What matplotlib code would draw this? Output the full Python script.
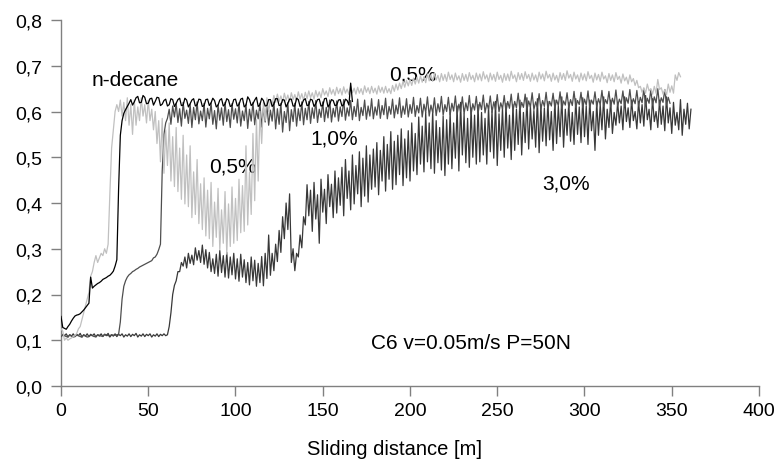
import numpy as np
import matplotlib
matplotlib.use("Agg")
import matplotlib.pyplot as plt

plt.rcParams['font.family'] = ['Liberation Sans', 'DejaVu Sans']

# ---- data: friction coefficient read every metre (even / odd metre readings) ----
decane_even = [
    0.152, 0.126, 0.130, 0.142, 0.153, 0.156, 0.162, 0.171, 0.181, 0.214,
    0.221, 0.226, 0.233, 0.237, 0.242, 0.251, 0.276, 0.548, 0.596, 0.611,
    0.626, 0.621, 0.633, 0.620, 0.631, 0.618, 0.629, 0.622, 0.630, 0.616,
    0.627, 0.615, 0.626, 0.618, 0.629, 0.614, 0.625, 0.617, 0.628, 0.615,
    0.626, 0.613, 0.627, 0.619, 0.624, 0.614, 0.628, 0.616, 0.625, 0.613,
    0.627, 0.615, 0.629, 0.614, 0.626, 0.617, 0.631, 0.615, 0.624, 0.613,
    0.626, 0.616, 0.628, 0.614, 0.625, 0.618, 0.627, 0.612, 0.626, 0.615,
    0.628, 0.614, 0.625, 0.617, 0.627, 0.613, 0.629, 0.616, 0.624, 0.614,
    0.626, 0.615, 0.624, 0.662]
decane_odd = [
    0.128, 0.124, 0.135, 0.148, 0.155, 0.158, 0.166, 0.176, 0.238, 0.218,
    0.224, 0.229, 0.235, 0.240, 0.246, 0.262, 0.430, 0.580, 0.604, 0.618,
    0.614, 0.630, 0.619, 0.635, 0.617, 0.628, 0.614, 0.631, 0.613, 0.624,
    0.612, 0.628, 0.611, 0.626, 0.613, 0.629, 0.610, 0.625, 0.612, 0.627,
    0.611, 0.626, 0.613, 0.629, 0.610, 0.625, 0.612, 0.628, 0.611, 0.626,
    0.612, 0.627, 0.610, 0.632, 0.613, 0.625, 0.611, 0.629, 0.612, 0.626,
    0.611, 0.628, 0.613, 0.626, 0.610, 0.627, 0.612, 0.629, 0.611, 0.625,
    0.613, 0.627, 0.611, 0.626, 0.612, 0.628, 0.610, 0.626, 0.613, 0.625,
    0.612, 0.627, 0.614, 0.622]

c05_even = [
    0.125, 0.100, 0.100, 0.105, 0.110, 0.125, 0.145, 0.175, 0.205, 0.250,
    0.285, 0.280, 0.285, 0.290, 0.420, 0.560, 0.615, 0.625, 0.620, 0.630,
    0.615, 0.625, 0.610, 0.630, 0.615, 0.625, 0.605, 0.600, 0.580, 0.585,
    0.560, 0.575, 0.545, 0.565, 0.520, 0.548, 0.505, 0.525, 0.468, 0.495,
    0.442, 0.455, 0.428, 0.445, 0.402, 0.432, 0.385, 0.425, 0.398, 0.435,
    0.410, 0.452, 0.438, 0.525, 0.468, 0.552, 0.582, 0.600, 0.620, 0.630,
    0.625, 0.635, 0.638, 0.634, 0.640, 0.636, 0.641, 0.637, 0.643, 0.639,
    0.642, 0.645, 0.641, 0.646, 0.643, 0.650, 0.645, 0.652, 0.648, 0.653,
    0.650, 0.654, 0.649, 0.655, 0.651, 0.653, 0.650, 0.656, 0.652, 0.655,
    0.651, 0.656, 0.653, 0.655, 0.650, 0.657, 0.660, 0.662, 0.666, 0.668,
    0.670, 0.673, 0.675, 0.678, 0.676, 0.682, 0.680, 0.684, 0.679, 0.683,
    0.681, 0.686, 0.680, 0.684, 0.678, 0.683, 0.681, 0.685, 0.679, 0.684,
    0.682, 0.687, 0.680, 0.684, 0.681, 0.686, 0.679, 0.683, 0.682, 0.688,
    0.680, 0.685, 0.683, 0.687, 0.681, 0.684, 0.680, 0.686, 0.682, 0.688,
    0.681, 0.684, 0.679, 0.685, 0.683, 0.689, 0.681, 0.686, 0.680, 0.684,
    0.682, 0.687, 0.679, 0.684, 0.681, 0.686, 0.678, 0.683, 0.680, 0.685,
    0.677, 0.682, 0.675, 0.680, 0.672, 0.668, 0.655, 0.652, 0.660, 0.650,
    0.655, 0.670, 0.652, 0.648, 0.660, 0.656, 0.680, 0.685]
c05_odd = [
    0.120, 0.105, 0.103, 0.108, 0.115, 0.130, 0.160, 0.190, 0.240, 0.270,
    0.270, 0.290, 0.300, 0.310, 0.520, 0.600, 0.600, 0.590, 0.580, 0.570,
    0.550, 0.570, 0.580, 0.590, 0.575, 0.580, 0.560, 0.530, 0.490, 0.465,
    0.482, 0.448, 0.436, 0.425, 0.408, 0.398, 0.392, 0.368, 0.375, 0.355,
    0.342, 0.328, 0.322, 0.305, 0.325, 0.298, 0.312, 0.288, 0.305, 0.312,
    0.318, 0.335, 0.338, 0.352, 0.375, 0.405, 0.448, 0.530, 0.580, 0.600,
    0.615, 0.620, 0.622, 0.620, 0.624, 0.621, 0.626, 0.623, 0.627, 0.624,
    0.628, 0.630, 0.627, 0.632, 0.630, 0.636, 0.633, 0.638, 0.635, 0.639,
    0.636, 0.640, 0.637, 0.641, 0.638, 0.640, 0.637, 0.642, 0.639, 0.641,
    0.638, 0.642, 0.640, 0.641, 0.639, 0.644, 0.647, 0.650, 0.653, 0.656,
    0.657, 0.660, 0.662, 0.664, 0.663, 0.667, 0.666, 0.669, 0.665, 0.668,
    0.666, 0.670, 0.665, 0.669, 0.664, 0.668, 0.666, 0.670, 0.665, 0.669,
    0.667, 0.671, 0.665, 0.669, 0.666, 0.670, 0.664, 0.668, 0.667, 0.672,
    0.665, 0.670, 0.668, 0.672, 0.666, 0.669, 0.665, 0.671, 0.667, 0.673,
    0.666, 0.669, 0.664, 0.670, 0.668, 0.673, 0.666, 0.671, 0.665, 0.669,
    0.667, 0.672, 0.664, 0.669, 0.666, 0.671, 0.663, 0.668, 0.665, 0.670,
    0.662, 0.667, 0.660, 0.665, 0.657, 0.652, 0.642, 0.640, 0.645, 0.638,
    0.640, 0.648, 0.638, 0.636, 0.642, 0.640, 0.668, 0.676]

c10_even = [
    0.108, 0.110, 0.107, 0.109, 0.108, 0.110, 0.107, 0.109, 0.108, 0.110,
    0.108, 0.111, 0.109, 0.112, 0.110, 0.111, 0.112, 0.140, 0.218, 0.238,
    0.246, 0.252, 0.257, 0.262, 0.266, 0.270, 0.274, 0.282, 0.298, 0.470,
    0.575, 0.605, 0.612, 0.618, 0.606, 0.620, 0.603, 0.616, 0.609, 0.621,
    0.601, 0.618, 0.607, 0.619, 0.602, 0.615, 0.608, 0.620, 0.604, 0.617,
    0.606, 0.619, 0.601, 0.616, 0.605, 0.620, 0.603, 0.618, 0.607, 0.615,
    0.603, 0.621, 0.606, 0.618, 0.600, 0.619, 0.604, 0.618, 0.606, 0.621,
    0.607, 0.622, 0.608, 0.624, 0.605, 0.621, 0.609, 0.625, 0.607, 0.623,
    0.610, 0.626, 0.608, 0.624, 0.611, 0.627, 0.609, 0.625, 0.612, 0.628,
    0.610, 0.626, 0.613, 0.629, 0.611, 0.627, 0.614, 0.630, 0.612, 0.628,
    0.615, 0.631, 0.613, 0.629, 0.616, 0.632, 0.614, 0.630, 0.617, 0.633,
    0.615, 0.631, 0.618, 0.634, 0.616, 0.632, 0.619, 0.635, 0.617, 0.633,
    0.620, 0.636, 0.618, 0.634, 0.621, 0.637, 0.619, 0.635, 0.622, 0.638,
    0.622, 0.640, 0.620, 0.638, 0.623, 0.641, 0.621, 0.639, 0.624, 0.642,
    0.622, 0.640, 0.625, 0.643, 0.623, 0.641, 0.626, 0.644, 0.624, 0.642,
    0.627, 0.645, 0.625, 0.643, 0.628, 0.646, 0.626, 0.644, 0.629, 0.647,
    0.627, 0.645, 0.630, 0.648, 0.628, 0.646, 0.631, 0.649, 0.629, 0.647,
    0.632, 0.650, 0.630, 0.648, 0.631]
c10_odd = [
    0.111, 0.108, 0.112, 0.107, 0.111, 0.108, 0.112, 0.107, 0.111, 0.108,
    0.112, 0.109, 0.113, 0.110, 0.112, 0.111, 0.113, 0.190, 0.230, 0.243,
    0.250, 0.255, 0.260, 0.264, 0.268, 0.272, 0.280, 0.288, 0.310, 0.550,
    0.585, 0.572, 0.588, 0.576, 0.568, 0.585, 0.574, 0.565, 0.582, 0.573,
    0.580, 0.566, 0.584, 0.572, 0.562, 0.581, 0.570, 0.578, 0.565, 0.583,
    0.575, 0.568, 0.580, 0.563, 0.579, 0.571, 0.584, 0.566, 0.577, 0.570,
    0.579, 0.562, 0.572, 0.555, 0.576, 0.558, 0.578, 0.568, 0.580, 0.571,
    0.582, 0.574, 0.585, 0.576, 0.587, 0.578, 0.586, 0.577, 0.588, 0.579,
    0.589, 0.581, 0.590, 0.582, 0.589, 0.580, 0.591, 0.583, 0.590, 0.584,
    0.592, 0.585, 0.593, 0.584, 0.594, 0.586, 0.595, 0.587, 0.594, 0.588,
    0.596, 0.589, 0.597, 0.588, 0.598, 0.590, 0.597, 0.591, 0.599, 0.592,
    0.600, 0.593, 0.601, 0.594, 0.600, 0.595, 0.602, 0.594, 0.603, 0.596,
    0.604, 0.597, 0.605, 0.598, 0.604, 0.599, 0.606, 0.600, 0.607, 0.601,
    0.608, 0.602, 0.609, 0.603, 0.610, 0.604, 0.609, 0.605, 0.611, 0.606,
    0.612, 0.607, 0.613, 0.606, 0.614, 0.608, 0.613, 0.609, 0.615, 0.608,
    0.614, 0.609, 0.616, 0.610, 0.615, 0.611, 0.617, 0.610, 0.616, 0.612,
    0.617, 0.611, 0.618, 0.613, 0.617, 0.612, 0.619, 0.613, 0.618, 0.614,
    0.619, 0.613, 0.620, 0.614, 0.618]

c30_even = [
    0.108, 0.110, 0.107, 0.109, 0.108, 0.110, 0.107, 0.109, 0.108, 0.110,
    0.107, 0.109, 0.108, 0.110, 0.107, 0.109, 0.108, 0.110, 0.107, 0.109,
    0.108, 0.110, 0.107, 0.109, 0.108, 0.110, 0.107, 0.109, 0.108, 0.110,
    0.110, 0.130, 0.200, 0.230, 0.250, 0.262, 0.258, 0.268, 0.265, 0.275,
    0.270, 0.266, 0.258, 0.250, 0.246, 0.240, 0.248, 0.238, 0.236, 0.243,
    0.234, 0.229, 0.238, 0.226, 0.221, 0.230, 0.218, 0.226, 0.219, 0.235,
    0.242, 0.252, 0.272, 0.292, 0.322, 0.342, 0.270, 0.252, 0.282, 0.302,
    0.352, 0.372, 0.338, 0.365, 0.312, 0.380, 0.355, 0.392, 0.368, 0.378,
    0.395, 0.372, 0.410, 0.385, 0.398, 0.420, 0.392, 0.415, 0.402, 0.430,
    0.435, 0.418, 0.448, 0.426, 0.452, 0.430, 0.440, 0.462, 0.438, 0.455,
    0.448, 0.470, 0.462, 0.485, 0.468, 0.490, 0.475, 0.465, 0.488, 0.472,
    0.460, 0.485, 0.475, 0.498, 0.470, 0.505, 0.488, 0.478, 0.500, 0.485,
    0.490, 0.505, 0.485, 0.512, 0.498, 0.482, 0.515, 0.500, 0.520, 0.495,
    0.515, 0.528, 0.505, 0.532, 0.518, 0.540, 0.522, 0.510, 0.535, 0.525,
    0.538, 0.515, 0.530, 0.545, 0.522, 0.548, 0.535, 0.528, 0.550, 0.532,
    0.545, 0.528, 0.558, 0.515, 0.548, 0.560, 0.540, 0.565, 0.552, 0.570,
    0.575, 0.560, 0.578, 0.565, 0.580, 0.562, 0.575, 0.568, 0.582, 0.560,
    0.578, 0.565, 0.572, 0.558, 0.575, 0.552, 0.570, 0.560, 0.548, 0.572,
    0.562]
c30_odd = [
    0.113, 0.114, 0.112, 0.114, 0.113, 0.115, 0.112, 0.114, 0.113, 0.114,
    0.112, 0.114, 0.113, 0.115, 0.112, 0.114, 0.113, 0.114, 0.112, 0.114,
    0.113, 0.115, 0.112, 0.114, 0.113, 0.114, 0.112, 0.114, 0.113, 0.114,
    0.112, 0.160, 0.220, 0.250, 0.270, 0.282, 0.290, 0.286, 0.302, 0.296,
    0.308, 0.298, 0.292, 0.278, 0.288, 0.296, 0.285, 0.292, 0.282, 0.290,
    0.278, 0.288, 0.276, 0.270, 0.282, 0.275, 0.268, 0.283, 0.290, 0.330,
    0.290, 0.310, 0.340, 0.370, 0.400, 0.420, 0.300, 0.290, 0.330, 0.370,
    0.440, 0.428, 0.445, 0.418, 0.452, 0.430, 0.462, 0.441, 0.470, 0.455,
    0.478, 0.495, 0.470, 0.505, 0.482, 0.512, 0.498, 0.525, 0.505, 0.518,
    0.532, 0.515, 0.545, 0.528, 0.556, 0.535, 0.548, 0.562, 0.540, 0.558,
    0.575, 0.552, 0.588, 0.568, 0.598, 0.575, 0.602, 0.580, 0.565, 0.590,
    0.582, 0.598, 0.575, 0.612, 0.620, 0.595, 0.585, 0.608, 0.592, 0.615,
    0.598, 0.585, 0.612, 0.600, 0.622, 0.595, 0.608, 0.618, 0.592, 0.615,
    0.605, 0.625, 0.598, 0.630, 0.612, 0.602, 0.628, 0.615, 0.608, 0.622,
    0.600, 0.625, 0.612, 0.632, 0.605, 0.620, 0.598, 0.628, 0.610, 0.630,
    0.612, 0.625, 0.600, 0.622, 0.615, 0.632, 0.605, 0.625, 0.598, 0.620,
    0.612, 0.632, 0.608, 0.625, 0.600, 0.622, 0.615, 0.635, 0.605, 0.628,
    0.600, 0.625, 0.612, 0.632, 0.608, 0.620, 0.598, 0.626, 0.605, 0.618,
    0.605]

x_ticks = [0, 50, 100, 150, 200, 250, 300, 350, 400]
y_ticks = [0.0, 0.1, 0.2, 0.3, 0.4, 0.5, 0.6, 0.7, 0.8]
y_ticklabels = ["0,0", "0,1", "0,2", "0,3", "0,4", "0,5", "0,6", "0,7", "0,8"]


def series(even, odd):
    y = np.empty(len(even) + len(odd))
    y[0::2] = even
    y[1::2] = odd
    x = np.arange(len(y))  # one reading per metre
    return x, y


fig = plt.figure(figsize=(7.81, 4.6), dpi=100)
ax = fig.add_axes([61 / 781, 73 / 460, 698 / 781, 366 / 460])

ax.plot(*series(c30_even, c30_odd), color="#383838", lw=0.9, zorder=2)
ax.plot(*series(c10_even, c10_odd), color="#4e4e4e", lw=0.9, zorder=3)
ax.plot(*series(c05_even, c05_odd), color="#c0c0c0", lw=0.9, zorder=4)
ax.plot(*series(decane_even, decane_odd), color="#000000", lw=0.9, zorder=5)

ax.set_xlim(0, 400)
ax.set_ylim(0, 0.8)
ax.set_xticks(x_ticks)
ax.set_xticklabels([str(v) for v in x_ticks])
ax.set_yticks(y_ticks)
ax.set_yticklabels(y_ticklabels)

for s in ["top", "right"]:
    ax.spines[s].set_visible(False)
for s in ["left", "bottom"]:
    ax.spines[s].set_color("#808080")
    ax.spines[s].set_linewidth(1.0)
ax.tick_params(axis="both", direction="out", length=7, width=1.0,
               color="#808080", labelsize=14, labelcolor="black")
ax.tick_params(axis="x", pad=4.5)
ax.tick_params(axis="y", pad=6.5)

ax.set_xlabel("Sliding distance [m]", fontsize=14.5, va="center")
ax.xaxis.set_label_coords((394.5 - 61) / 698, (387 - 450) / 366)

fs = 15
ax.text(17.8, 0.658, "n-decane", fontsize=fs, ha="left", va="baseline")
ax.text(188, 0.671, "0,5%", fontsize=fs, ha="left", va="baseline")
ax.text(84.8, 0.468, "0,5%", fontsize=fs, ha="left", va="baseline")
ax.text(142.7, 0.531, "1,0%", fontsize=fs, ha="left", va="baseline")
ax.text(276, 0.432, "3,0%", fontsize=fs, ha="left", va="baseline")
ax.text(177.7, 0.082, "C6 v=0.05m/s P=50N", fontsize=fs, ha="left", va="baseline")

fig.savefig("out.png", dpi=100)
